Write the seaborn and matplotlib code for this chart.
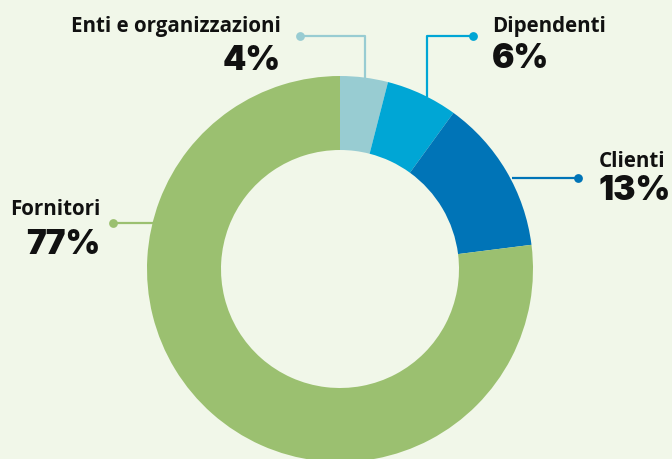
import numpy as np
import seaborn as sns
import matplotlib.pyplot as plt

categories = ['Enti e organizzazioni', 'Dipendenti', 'Clienti', 'Fornitori']
values = [4, 6, 13, 77]
pct_labels = ['4%', '6%', '13%', '77%']
colors = ['#98ccd2', '#00a6d5', '#0074b7', '#9bc070']

BG = '#f1f7e9'
sns.set_style('white')

fig = plt.figure(figsize=(6.72, 4.59), dpi=100, facecolor=BG)
ax = fig.add_axes([0, 0, 1, 1])
ax.set_facecolor(BG)

cx, cy, r = 340, 190, 193
wedges, _ = ax.pie(values, colors=colors, startangle=90, counterclock=False,
                   center=(cx, cy), radius=r, frame=True,
                   wedgeprops=dict(width=r - 119, linewidth=0))
ax.set_xlim(0, 672)
ax.set_ylim(0, 459)
ax.set_aspect('equal')
ax.axis('off')

# label layout: (text x, name baseline, pct baseline, ha, connector points)
layout = [
    (281, 427, 389, 'right', [(300, 423), (365, 423), (365, 381)]),
    (492, 427, 391, 'left', [(473, 423), (427, 423), (427, 362)]),
    (599, 292, 259, 'left', [(578, 281), (512, 281)]),
    (100, 244, 205, 'right', [(113, 236), (153, 236)]),
]

for (name, pct, col, (tx, ny, py, ha, pts)) in zip(categories, pct_labels, colors, layout):
    xs, ys = zip(*pts)
    ax.plot(xs, ys, color=col, lw=1.6, solid_capstyle='butt', zorder=1)
    ax.scatter([xs[0]], [ys[0]], s=40, color=col, zorder=2, linewidths=0)
    ax.text(tx, ny, name, ha=ha, va='baseline', fontsize=14.8,
            family='Open Sans', fontweight=700, color='#111111')
    ax.text(tx, py, pct, ha=ha, va='baseline', fontsize=24,
            family='Inter', fontweight=900, color='#111111')

fig.savefig('out.png', dpi=100, facecolor=BG)
